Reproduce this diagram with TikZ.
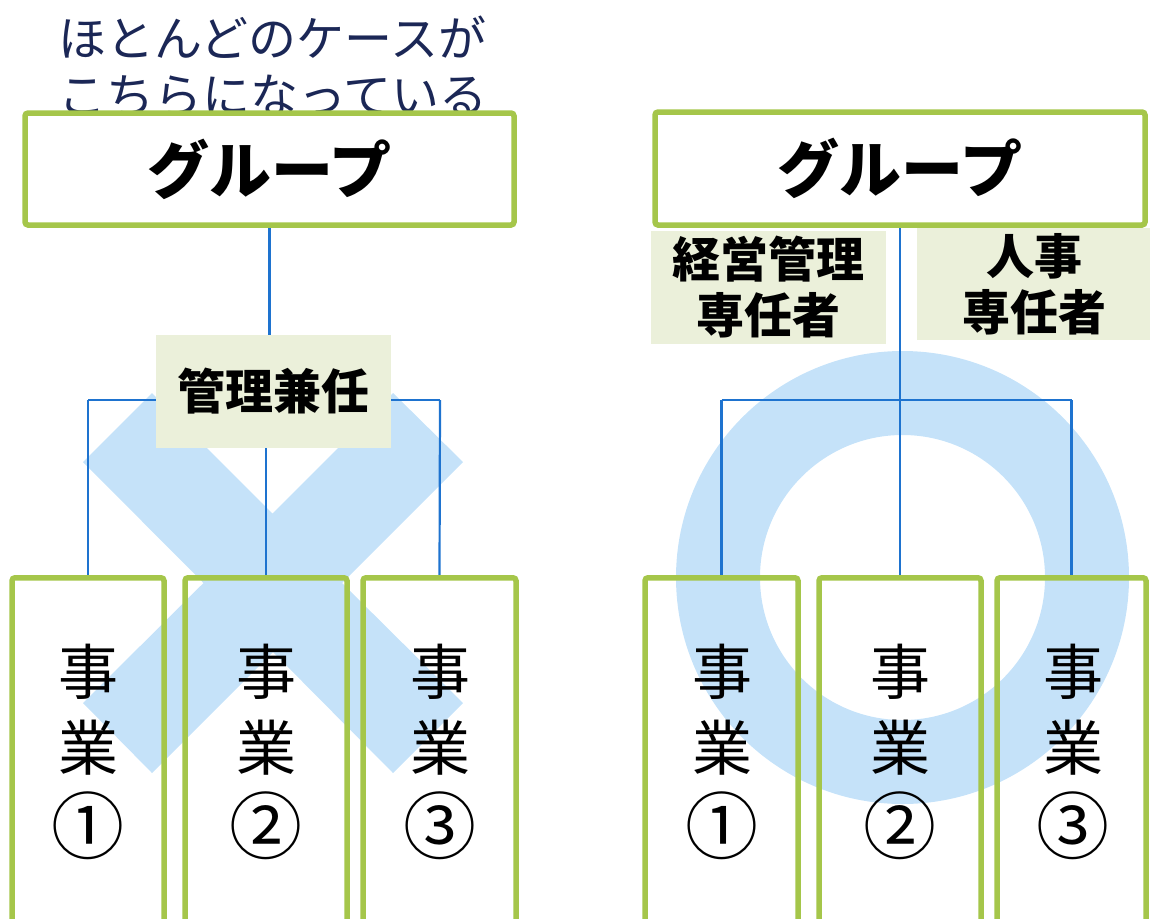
\documentclass[tikz,border=0pt]{standalone}
\usepackage{fontspec}
\setmainfont{Noto Sans CJK JP}
\definecolor{grn}{HTML}{A5C64A}
\definecolor{lblue}{HTML}{C5E2F9}
\definecolor{lnblue}{HTML}{1E73CF}
\definecolor{pale}{HTML}{EBF0DA}
\definecolor{navy}{HTML}{1B2756}
\pgfdeclarelayer{bg}
\pgfdeclarelayer{mid}
\pgfsetlayers{bg,mid,main}
\tikzset{
  gbox/.style={draw=grn, line width=5.5pt, rounded corners=3pt, rectangle, inner sep=0pt},
  groupbox/.style={gbox, minimum width=489pt, minimum height=112pt, font=\fontsize{62}{70}\selectfont\bfseries},
  unitbox/.style={gbox, anchor=north, minimum height=420pt},
  palebox/.style={fill=pale, rectangle, inner sep=0pt, align=center, font=\fontsize{48}{56}\selectfont\bfseries},
  unittext/.style={font=\fontsize{60}{76}\selectfont, inner sep=0pt},
  numtext/.style={font=\fontsize{73}{73}\selectfont, inner sep=0pt},
  conn/.style={draw=lnblue, line width=2.2pt},
  markfill/.style={fill=lblue}
}
\begin{document}
\begin{tikzpicture}[x=1pt,y=-1pt]
\useasboundingbox (0,0) rectangle (1150,918);

% background marks
\begin{pgfonlayer}{bg}
\fill[markfill] (272.5,513.5) -- (393,393) -- (463,462) -- (342,583) -- (463,703) -- (393,773) -- (273,652) -- (152,773) -- (83,703) -- (203.5,583) -- (83,462) -- (152,393) -- cycle;
\fill[markfill, even odd rule] (902.5,577.5) circle (226.5pt) (902.5,577.5) circle (142.5pt);
\end{pgfonlayer}

% caption
\node[anchor=west, text=navy, align=left, inner sep=0pt, font=\fontsize{48}{57}\selectfont] (cap) at (58,66) {ほとんどのケースが\\こちらになっている};

% left side
\node[groupbox] (gL) at (269.5,169) {グループ};
\node[unitbox, minimum width=152pt] (l1) at (88,575) {};
\node[unitbox, minimum width=162pt] (l2) at (266,575) {};
\node[unitbox, minimum width=153pt] (l3) at (439.5,575) {};
\foreach \n/\x/\c in {l1/88/①, l2/266/②, l3/440/③, r1/722/①, r2/900/②, r3/1073/③}{
  \node[unittext] (\n a) at (\x,672) {事};
  \node[unittext] (\n b) at (\x,748) {業};
  \node[numtext] (\n c) at (\x,826) {\c};
}
\node[palebox, minimum width=235pt, minimum height=113pt] (kan) at (273.5,391.5) {管理兼任};
\coordinate (lhL) at (88,400);
\coordinate (lhR) at (440,400);
\begin{pgfonlayer}{mid}
\draw[conn] (gL.south) -- (kan.north -| gL.south);
\draw[conn] (lhL) -- (lhR);
\draw[conn] (l1.north) -- (lhL);
\draw[conn] (l3.north) -- (lhR);
\draw[conn] (kan.south -| l2.north) -- (l2.north);
\end{pgfonlayer}

% right side
\node[groupbox, minimum width=490pt, minimum height=113pt] (gR) at (900,168.5) {グループ};
\node[unitbox, minimum width=153pt] (r1) at (721.5,575) {};
\node[unitbox, minimum width=162pt] (r2) at (900,575) {};
\node[unitbox, minimum width=149pt] (r3) at (1071.5,575) {};
\node[palebox, minimum width=235pt, minimum height=113pt] (kei) at (768.5,287.5) {経営管理\\専任者};
\node[palebox, minimum width=234pt, minimum height=112pt] (jin) at (1034,284) {人事\\専任者};
\coordinate (rhL) at (721.5,400);
\coordinate (rhR) at (1071.5,400);
\coordinate (rhM) at (900,400);
\begin{pgfonlayer}{mid}
\draw[conn, line width=2.8pt] (gR.south) -- (rhM);
\draw[conn] (rhL) -- (rhR);
\draw[conn] (r1.north) -- (rhL);
\draw[conn] (r3.north) -- (rhR);
\draw[conn] (rhM) -- (r2.north);
\end{pgfonlayer}
\end{tikzpicture}
\end{document}
